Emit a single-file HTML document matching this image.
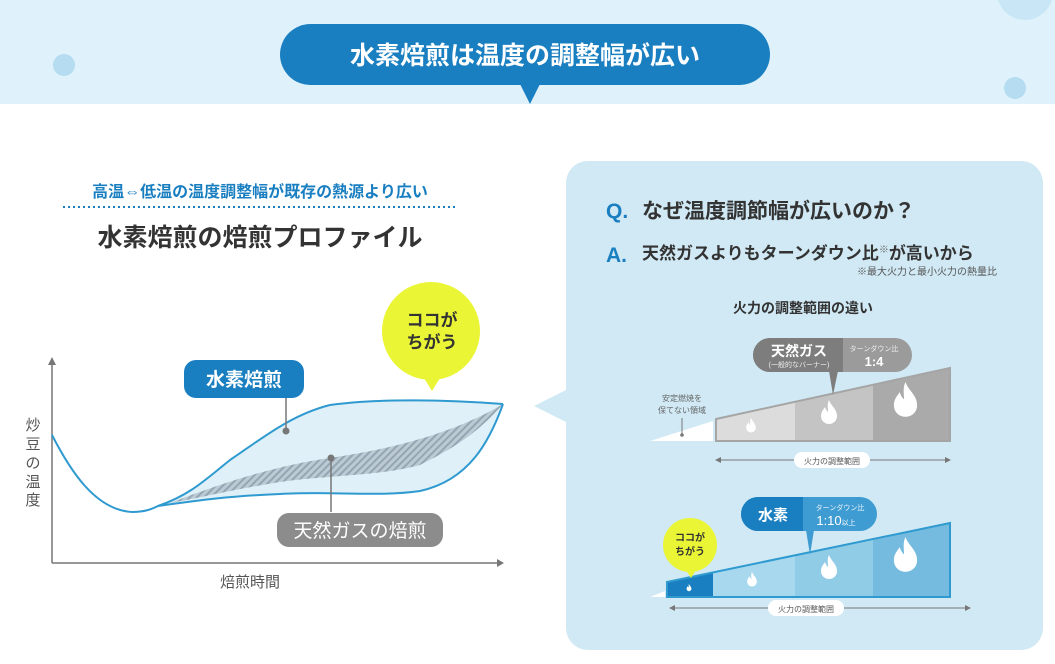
<!DOCTYPE html>
<html><head><meta charset="utf-8"><style>
html,body{margin:0;padding:0;background:#fff}
svg{display:block}
text{font-family:"Liberation Sans","Noto Sans CJK JP",sans-serif}
</style></head><body>
<svg width="1055" height="664" viewBox="0 0 1055 664" xmlns="http://www.w3.org/2000/svg">
<defs>
<pattern id="hatch" width="5" height="5" patternUnits="userSpaceOnUse" patternTransform="rotate(45)">
<rect width="5" height="5" fill="#bccad3"/><rect width="2" height="5" fill="#94a6b3"/></pattern>
<path id="fl" d="M10 0 C12 6 18 9 18 16 C18 21 14 24 10 24 C6 24 2 21 2 16 C2 12 4 10 6 7 C7 10 8 11 9 12 C9 8 8 4 10 0Z"/>
</defs>
<rect x="0" y="0" width="1055" height="104" fill="#dff2fb"/>
<circle cx="64" cy="65" r="11" fill="#b5dcf0"/>
<circle cx="1015" cy="88" r="11" fill="#b5dcf0"/>
<circle cx="1025" cy="-8" r="28" fill="#c8e6f5"/>
<rect x="280" y="24" width="490" height="61" rx="30.5" fill="#1a7fc1"/>
<path d="M520 84 L530 104 L540 84Z" fill="#1a7fc1"/>
<text x="525" y="64" text-anchor="middle" font-size="25" font-weight="bold" fill="#fff">水素焙煎は温度の調整幅が広い</text>

<text x="260" y="197" text-anchor="middle" font-size="16" font-weight="bold" fill="#1a7fc1">高温⇔低温の温度調整幅が既存の熱源より広い</text>
<line x1="63" y1="207" x2="457" y2="207" stroke="#1a7fc1" stroke-width="2" stroke-dasharray="2,3"/>
<text x="260" y="246" text-anchor="middle" font-size="25" font-weight="bold" fill="#333">水素焙煎の焙煎プロファイル</text>

<line x1="52" y1="563" x2="500" y2="563" stroke="#777" stroke-width="1.5"/>
<path d="M497 559 L504 563 L497 567Z" fill="#777"/>
<line x1="52" y1="563" x2="52" y2="362" stroke="#777" stroke-width="1.5"/>
<path d="M48 365 L52 357 L56 365Z" fill="#777"/>
<text x="33" y="430" text-anchor="middle" font-size="15" fill="#555">炒</text>
<text x="33" y="449" text-anchor="middle" font-size="15" fill="#555">豆</text>
<text x="33" y="468" text-anchor="middle" font-size="15" fill="#555">の</text>
<text x="33" y="487" text-anchor="middle" font-size="15" fill="#555">温</text>
<text x="33" y="505" text-anchor="middle" font-size="15" fill="#555">度</text>
<text x="250" y="587" text-anchor="middle" font-size="15" fill="#555">焙煎時間</text>
<path d="M158 506 C190 495 205 480 230 460 C260 440 290 415 330 405 C380 398 450 400 503 404 C490 440 470 480 420 491 C380 497 330 490 250 495 C200 500 175 504 158 506Z" fill="#dff0f8"/>
<path d="M170 503 C230 480 280 465 330 458 C400 448 460 430 503 404 C480 430 460 445 420 465 C380 476 330 475 280 482 C230 490 200 498 170 503Z" fill="url(#hatch)"/>
<path d="M52 435 C70 470 95 510 132 512 C145 512 152 509 158 506 C190 495 205 480 230 460 C260 440 290 415 330 405 C380 398 450 400 503 404" fill="none" stroke="#2f9ad0" stroke-width="2"/>
<path d="M158 506 C200 500 230 496 280 494 C330 491 380 497 420 491 C470 480 490 440 503 404" fill="none" stroke="#2f9ad0" stroke-width="2"/>
<line x1="286" y1="395" x2="286" y2="431" stroke="#777" stroke-width="1.5"/>
<circle cx="286" cy="431" r="3.5" fill="#777"/>
<line x1="331" y1="458" x2="331" y2="512" stroke="#777" stroke-width="1.5"/>
<circle cx="331" cy="458" r="3.5" fill="#777"/>
<rect x="184" y="360" width="120" height="38" rx="12" fill="#1a7fc1"/>
<text x="244" y="386" text-anchor="middle" font-size="19" font-weight="bold" fill="#fff">水素焙煎</text>
<rect x="277" y="513" width="166" height="34" rx="12" fill="#8c8c8c"/>
<text x="360" y="537" text-anchor="middle" font-size="19" fill="#fff">天然ガスの焙煎</text>
<circle cx="431" cy="331" r="49" fill="#eaf535"/>
<path d="M424 378 L432 391 L440 378Z" fill="#eaf535"/>
<text x="432" y="326" text-anchor="middle" font-size="17" font-weight="bold" fill="#333">ココが</text>
<text x="432" y="348" text-anchor="middle" font-size="17" font-weight="bold" fill="#333">ちがう</text>

<rect x="566" y="161" width="477" height="489" rx="22" fill="#d0e9f4"/>
<path d="M566 390 L534 406 L566 422Z" fill="#d0e9f4"/>
<text x="606" y="218" font-size="21" font-weight="bold" fill="#1a7fc1">Q.</text>
<text x="642" y="218" font-size="21" font-weight="bold" fill="#333">なぜ温度調節幅が広いのか？</text>
<text x="606" y="262" font-size="21" font-weight="bold" fill="#1a7fc1">A.</text>
<text x="642" y="259" font-size="17" font-weight="bold" fill="#333">天然ガスよりもターンダウン比<tspan font-size="10" dy="-6" fill="#666">※</tspan><tspan dy="6">が高いから</tspan></text>
<text x="997" y="275" text-anchor="end" font-size="10" fill="#555">※最大火力と最小火力の熱量比</text>
<text x="803" y="313" text-anchor="middle" font-size="14" font-weight="bold" fill="#333">火力の調整範囲の違い</text>

<path d="M650 441 L713 421 L713 441Z" fill="#fff"/>
<text x="682" y="401" text-anchor="middle" font-size="8" fill="#666">安定燃焼を</text>
<text x="682" y="413" text-anchor="middle" font-size="8" fill="#666">保てない領域</text>
<line x1="682" y1="418" x2="682" y2="434" stroke="#777"/><circle cx="682" cy="435" r="1.8" fill="#777"/>
<path d="M716 419 L795 402 L795 441 L716 441Z" fill="#dcdcdc"/>
<path d="M795 402 L873 385 L873 441 L795 441Z" fill="#c4c4c4"/>
<path d="M873 385 L950 368 L950 441 L873 441Z" fill="#aaa"/>
<path d="M716 419 L950 368 L950 441 L716 441Z" fill="none" stroke="#a5a5a5" stroke-width="2"/>
<use href="#fl" fill="#fff" transform="translate(745,418) scale(0.6)"/>
<use href="#fl" fill="#fff" transform="translate(819,400) scale(1.0)"/>
<use href="#fl" fill="#fff" transform="translate(891,382) scale(1.45)"/>
<path d="M770 338 H895 A17 17 0 0 1 895 372 H770 A17 17 0 0 1 770 338Z" fill="#9b9b9b"/>
<path d="M770 338 H843 V372 H770 A17 17 0 0 1 770 338Z" fill="#7d7d7d"/>
<path d="M829 371 L833 395 L838 371Z" fill="#7d7d7d"/>
<text x="799" y="356" text-anchor="middle" font-size="14" font-weight="bold" fill="#fff">天然ガス</text>
<text x="799" y="367" text-anchor="middle" font-size="7" fill="#eee">(一般的なバーナー)</text>
<text x="874" y="351" text-anchor="middle" font-size="7" fill="#eee">ターンダウン比</text>
<text x="874" y="366" text-anchor="middle" font-size="13" font-weight="bold" fill="#fff">1:4</text>
<line x1="718" y1="460" x2="948" y2="460" stroke="#777"/>
<path d="M715 460 L721 457 L721 463Z M951 460 L945 457 L945 463Z" fill="#777"/>
<rect x="794" y="452" width="76" height="16" rx="8" fill="#fff"/>
<text x="832" y="464" text-anchor="middle" font-size="8" fill="#555">火力の調整範囲</text>

<path d="M650 597 L665 591 L665 597Z" fill="#fff"/>
<path d="M667 582 L713 573 L713 597 L667 597Z" fill="#1a7fc1"/>
<path d="M713 573 L795 556 L795 597 L713 597Z" fill="#a8d8ee"/>
<path d="M795 556 L873 540 L873 597 L795 597Z" fill="#91cce7"/>
<path d="M873 540 L950 523 L950 597 L873 597Z" fill="#74bbdf"/>
<path d="M667 582 L950 523 L950 597 L667 597Z" fill="none" stroke="#2f9ad0" stroke-width="2"/>
<use href="#fl" fill="#fff" transform="translate(686,584) scale(0.3)"/>
<use href="#fl" fill="#fff" transform="translate(746,572) scale(0.6)"/>
<use href="#fl" fill="#fff" transform="translate(819,555) scale(1.0)"/>
<use href="#fl" fill="#fff" transform="translate(891,537) scale(1.45)"/>
<path d="M758 497 H860 A17 17 0 0 1 860 531 H758 A17 17 0 0 1 758 497Z" fill="#3f9cd3"/>
<path d="M758 497 H803 V531 H758 A17 17 0 0 1 758 497Z" fill="#1a7fc1"/>
<path d="M806 530 L810 555 L814 530Z" fill="#3f9cd3"/>
<text x="773" y="520" text-anchor="middle" font-size="15" font-weight="bold" fill="#fff">水素</text>
<text x="840" y="510" text-anchor="middle" font-size="7" fill="#e8f4fb">ターンダウン比</text>
<text x="836" y="525" text-anchor="middle" font-size="13" fill="#fff">1:10<tspan font-size="7">以上</tspan></text>
<circle cx="690" cy="545" r="27" fill="#eaf535"/>
<path d="M686 570 L691 578 L696 570Z" fill="#eaf535"/>
<text x="690" y="541" text-anchor="middle" font-size="10" font-weight="bold" fill="#333">ココが</text>
<text x="690" y="555" text-anchor="middle" font-size="10" font-weight="bold" fill="#333">ちがう</text>
<line x1="672" y1="608" x2="968" y2="608" stroke="#777"/>
<path d="M669 608 L675 605 L675 611Z M971 608 L965 605 L965 611Z" fill="#777"/>
<rect x="768" y="600" width="76" height="16" rx="8" fill="#fff"/>
<text x="806" y="612" text-anchor="middle" font-size="8" fill="#555">火力の調整範囲</text>
</svg>
</body></html>
